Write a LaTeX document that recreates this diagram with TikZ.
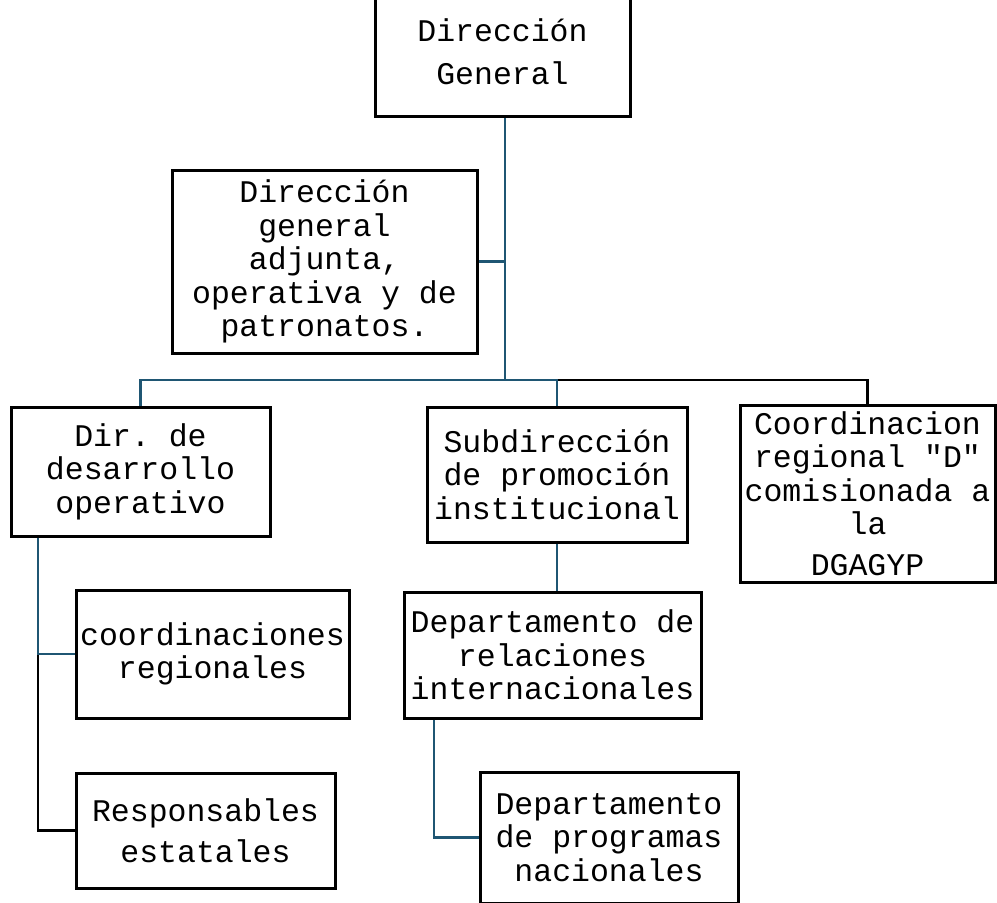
\documentclass[tikz,border=0pt]{standalone}
\usepackage{fontspec}
\setmonofont{Liberation Mono}
\definecolor{connblue}{HTML}{1F5673}
\begin{document}
\begin{tikzpicture}[x=1pt,y=-1pt,
  box/.style={draw=black, line width=3pt, fill=white, align=center, inner sep=0pt,
    font=\ttfamily\fontsize{31.5}{33.5}\selectfont},
  conn/.style={draw=connblue, line width=2.6pt},
  connk/.style={draw=black, line width=2.6pt}]
\fill[white] (0,0) rectangle (997,903);
\useasboundingbox (0,0) rectangle (997,903);
\coordinate (t) at (505,380);
\coordinate (l) at (38,655);
\coordinate (r) at (434,760);
% nodes
\node[box, minimum width=255pt, minimum height=129pt] (dg) at (502.5,51.5) {Dirección\\[9pt]General};
\node[box, minimum width=305pt, minimum height=183pt] (adj) at (324.5,261.5) {Dirección\\general\\adjunta,\\operativa y de\\patronatos.};
\node[box, minimum width=259pt, minimum height=129pt] (ddo) at (140.5,471.5) {Dir. de\\desarrollo\\operativo};
\node[box, minimum width=260pt, minimum height=135pt] (sub) at (557,474.5) {Subdirección\\de promoción\\institucional};
\node[box, minimum width=255pt, minimum height=177pt] (coord) at (867.5,493.5) {Coordinacion\\regional "D"\\comisionada a\\la\\[7pt]DGAGYP};
\node[box, minimum width=297pt, minimum height=126pt] (rel) at (552.5,655) {Departamento de\\relaciones\\internacionales};
\node[box, minimum width=273pt, minimum height=128pt] (cr) at (212.5,654) {coordinaciones\\regionales};
\node[box, minimum width=259pt, minimum height=115pt] (resp) at (205.5,830.5) {Responsables\\[8pt]estatales};
\node[box, minimum width=258pt, minimum height=131pt] (prog) at (609,837.5) {Departamento\\de programas\\nacionales};
% connectors
\draw[conn] (t |- dg.south) -- (t);
\draw[conn] (adj.east) -- (adj.east -| t);
\draw[connk] (t -| sub.north) -| (coord.north);
\draw[conn] (ddo.north) |- (t -| sub.north) -- (sub.north);
\draw[connk] (l |- cr.west) |- (resp.west);
\draw[conn] (ddo.south -| l) -- (l |- cr.west) -- (cr.west);
\draw[conn] (sub.south) -- (sub.south |- rel.north);
\draw[conn] (rel.south -| r) |- (prog.west);
\end{tikzpicture}
\end{document}
